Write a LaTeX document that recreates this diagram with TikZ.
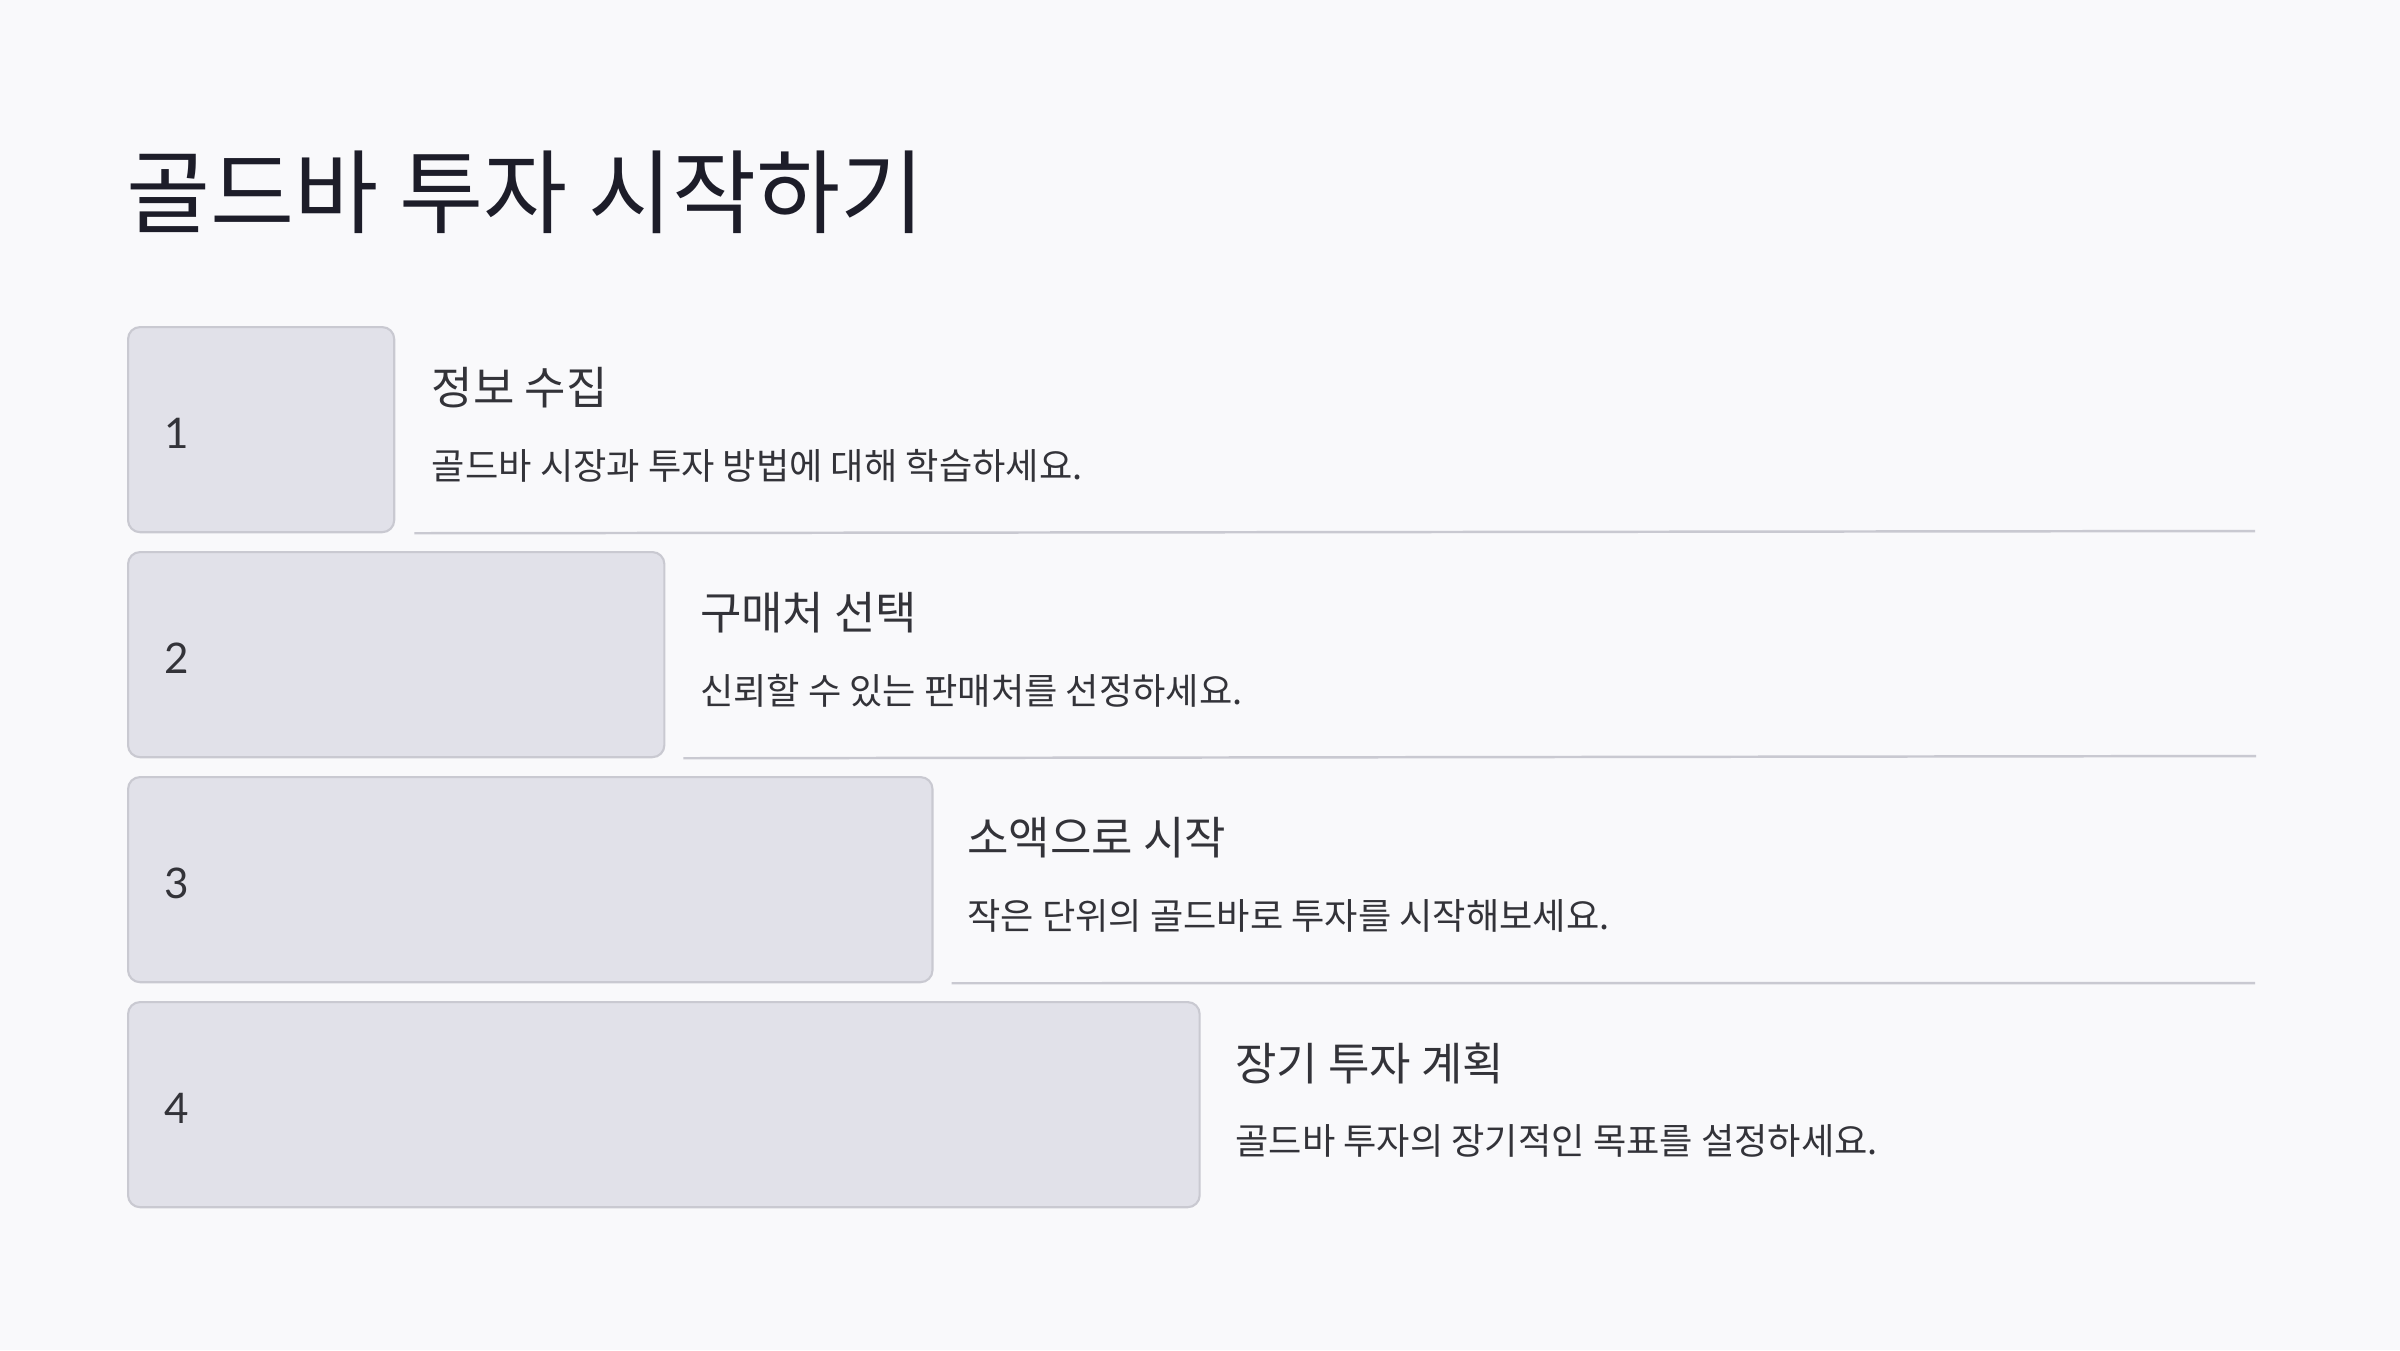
\documentclass[tikz,border=0pt]{standalone}
\usepackage{fontspec}
\setmainfont{Noto Sans CJK KR}
\newfontfamily\numfont{Lato}
\usetikzlibrary{positioning,calc}
\definecolor{bgcol}{HTML}{F9F9FB}
\definecolor{boxfill}{HTML}{E1E1E9}
\definecolor{boxline}{HTML}{C9C9D1}
\definecolor{titlecol}{HTML}{1D1D29}
\definecolor{textcol}{HTML}{333339}
\tikzset{
  stepbox/.style={draw=boxline,fill=boxfill,line width=0.6pt,rounded corners=0.12cm,
    anchor=north west,inner sep=0pt,minimum height=2.05cm},
  numtext/.style={anchor=west,inner sep=0pt,text=textcol,font=\numfont\fontsize{12pt}{14pt}\selectfont},
  headtext/.style={anchor=west,inner sep=0pt,text=textcol,font=\fontsize{12.8pt}{15pt}\selectfont},
  desctext/.style={anchor=west,inner sep=0pt,text=textcol,font=\fontsize{10.3pt}{12pt}\selectfont},
  titletext/.style={anchor=west,inner sep=0pt,text=titlecol,font=\fontsize{26pt}{30pt}\selectfont},
  rule/.style={draw=boxline,line width=0.7pt}
}

\begin{document}
\begin{tikzpicture}[x=0.01cm,y=-0.01cm]
% Background and page size
\fill[bgcol] (0,0) rectangle (2400,1350);
\useasboundingbox (0,0) rectangle (2400,1350);
% Title
\node[titletext] (title) at (126,192) {골드바 투자 시작하기};
% Step 1
\node[stepbox,minimum width=2.66cm] (b1) at (127,326) {};
\node[numtext] (n1) at ($(b1.west)+(37,4)$) {1};
\node[headtext] (h1) at ($(b1.north east)+(36,62)$) {정보 수집};
\node[desctext] (d1) at ($(b1.north east)+(36,140)$) {골드바 시장과 투자 방법에 대해 학습하세요.};
\coordinate (e1) at (2255,531);
\draw[rule] ($(b1.south east)+(19,0)$) -- (e1);
% Step 2
\node[stepbox,minimum width=5.36cm] (b2) at (127,551) {};
\node[numtext] (n2) at ($(b2.west)+(37,4)$) {2};
\node[headtext] (h2) at ($(b2.north east)+(34,62)$) {구매처 선택};
\node[desctext] (d2) at ($(b2.north east)+(34,140)$) {신뢰할 수 있는 판매처를 선정하세요.};
\coordinate (e2) at (2256,756);
\draw[rule] ($(b2.south east)+(18,0)$) -- (e2);
% Step 3
\node[stepbox,minimum width=8.04cm] (b3) at (127,776) {};
\node[numtext] (n3) at ($(b3.west)+(37,4)$) {3};
\node[headtext] (h3) at ($(b3.north east)+(33,62)$) {소액으로 시작};
\node[desctext] (d3) at ($(b3.north east)+(33,140)$) {작은 단위의 골드바로 투자를 시작해보세요.};
\coordinate (e3) at (2255,983);
\draw[rule] ($(b3.south east)+(18,0)$) -- (e3);
% Step 4
\node[stepbox,minimum width=10.71cm] (b4) at (127,1001) {};
\node[numtext] (n4) at ($(b4.west)+(37,4)$) {4};
\node[headtext] (h4) at ($(b4.north east)+(34,62)$) {장기 투자 계획};
\node[desctext] (d4) at ($(b4.north east)+(34,140)$) {골드바 투자의 장기적인 목표를 설정하세요.};
\end{tikzpicture}
\end{document}
